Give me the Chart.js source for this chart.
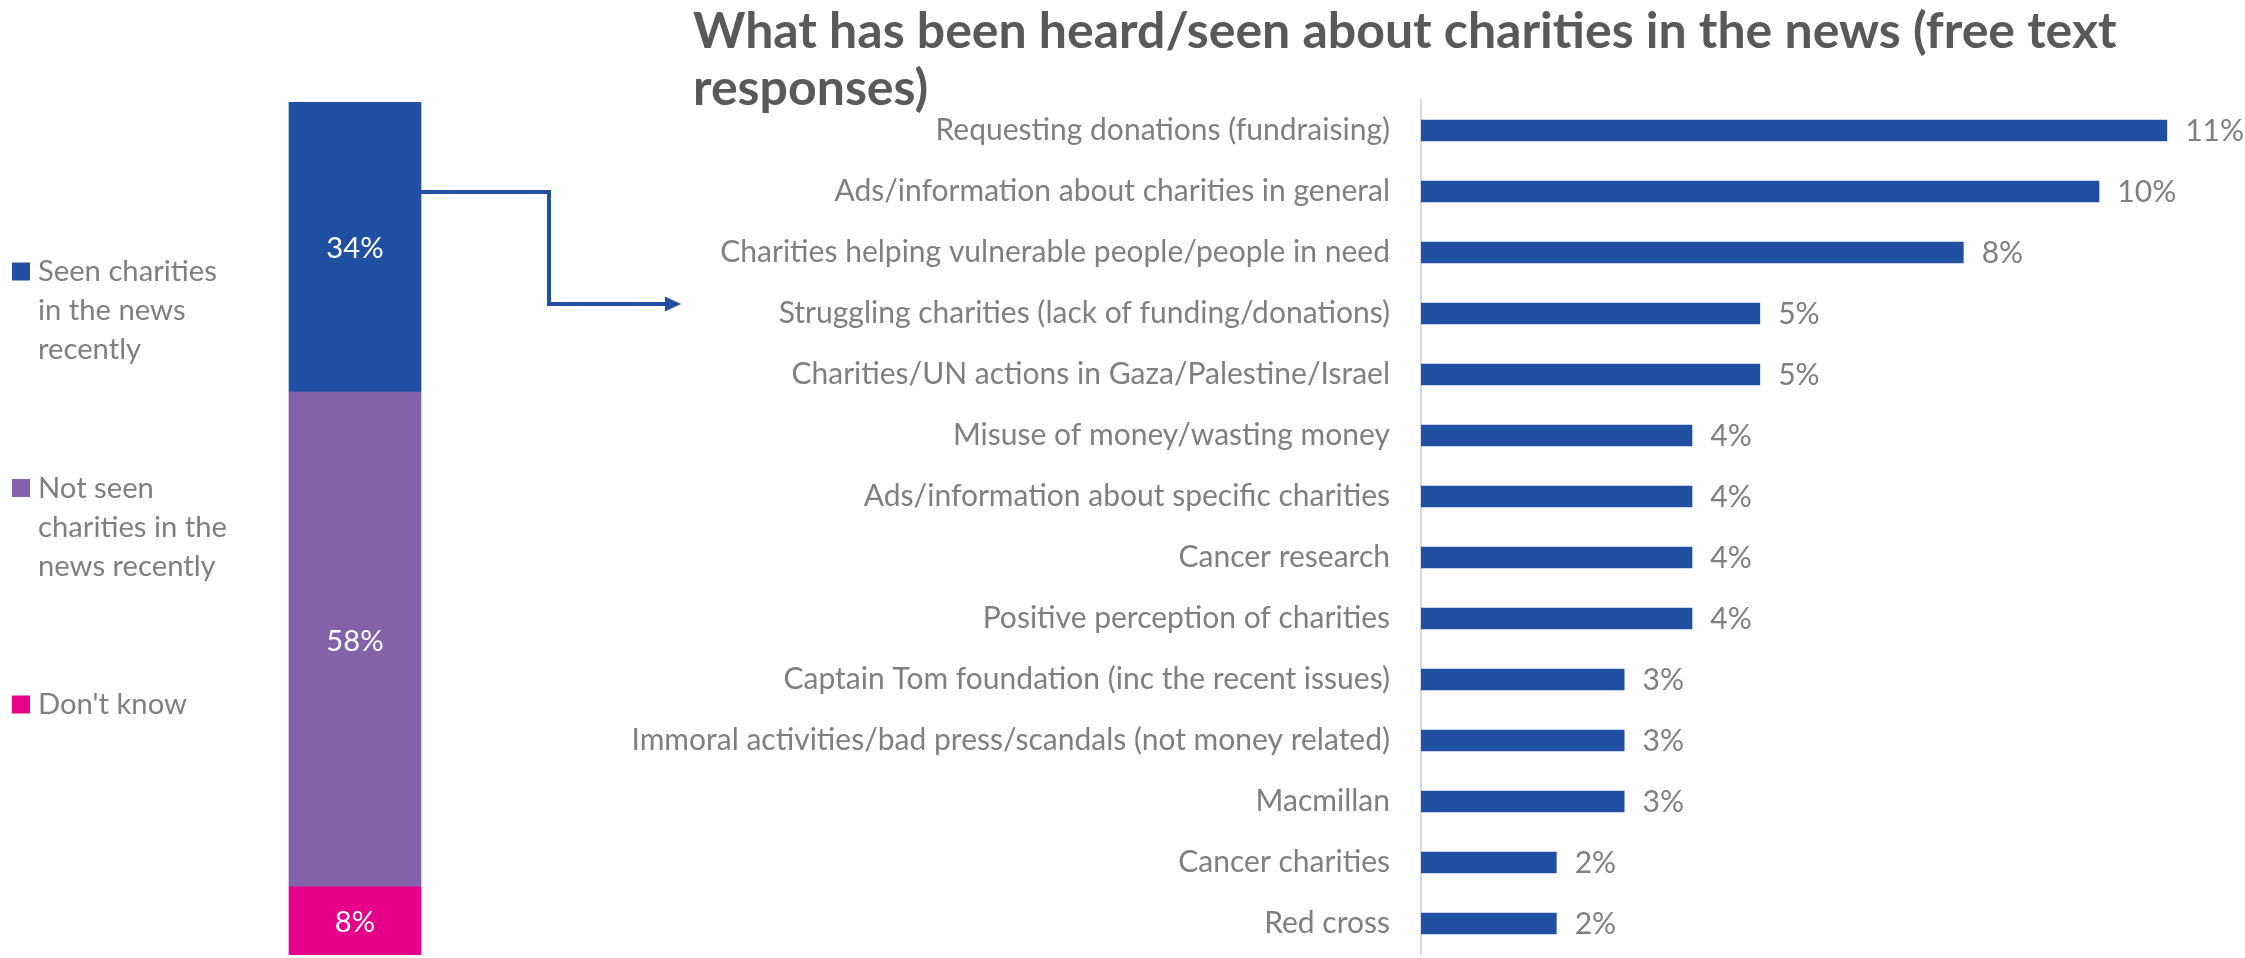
<!DOCTYPE html>
<html>
<head>
<meta charset="utf-8">
<title>Charities in the news</title>
<script src="https://cdn.jsdelivr.net/npm/chart.js@4.4.1/dist/chart.umd.min.js"></script>
<style>
  html, body { margin: 0; padding: 0; background: #ffffff; }
  #wrap { position: relative; width: 2245px; height: 958px; overflow: hidden; }
  #wrap canvas { position: absolute; left: 0; top: 0; }
</style>
</head>
<body>
<div id="wrap">
  <canvas id="share" width="710" height="958"></canvas>
  <canvas id="topics" width="2245" height="958"></canvas>
</div>
<script>
// Share of people who have seen charities in the news (stacked column, top to bottom)
const shareLabels = [
  ['Seen charities', 'in the news', 'recently'],
  ['Not seen', 'charities in the', 'news recently'],
  ["Don't know"]
];
const shareValues = [34, 58, 8];
const shareColors = ['#2150A3', '#8462AA', '#E6008A'];

// Free text topics mentioned by those who had seen charities in the news
const topicTitle = ['What has been heard/seen about charities in the news (free text', 'responses)'];
const topicLabels = [
  'Requesting donations (fundraising)',
  'Ads/information about charities in general',
  'Charities helping vulnerable people/people in need',
  'Struggling charities (lack of funding/donations)',
  'Charities/UN actions in Gaza/Palestine/Israel',
  'Misuse of money/wasting money',
  'Ads/information about specific charities',
  'Cancer research',
  'Positive perception of charities',
  'Captain Tom foundation (inc the recent issues)',
  'Immoral activities/bad press/scandals (not money related)',
  'Macmillan',
  'Cancer charities',
  'Red cross'
];
const topicValues = [11, 10, 8, 5, 5, 4, 4, 4, 4, 3, 3, 3, 2, 2];

const FAMILY = 'Lato, "Open Sans", "DejaVu Sans", sans-serif';
const BLUE = '#2150A3';
const GREY = '#7F7F7F';
const TITLE_GREY = '#595959';

// Pick a font size that makes the given text span the given width
function fitSize(text, width, weight) {
  const c = document.createElement('canvas').getContext('2d');
  c.font = weight + ' 100px ' + FAMILY;
  return 100 * width / c.measureText(text).width;
}
const longestTopic = topicLabels.reduce((a, b) => (a.length >= b.length ? a : b));
const tickSize = fitSize(longestTopic, 759, 'normal');
const legendSize = fitSize(shareLabels[0][0], 179, 'normal');
const titleSize = fitSize(topicTitle[0], 1424, 'bold');

// ---- left: stacked share column with side legend and link arrow ----
const segmentLabels = {
  id: 'segmentLabels',
  afterDatasetsDraw(chart) {
    const ctx = chart.ctx;
    ctx.save();
    ctx.fillStyle = '#ffffff';
    ctx.font = legendSize.toFixed(2) + 'px ' + FAMILY;
    ctx.textAlign = 'center';
    ctx.textBaseline = 'middle';
    chart.data.datasets.forEach((ds, i) => {
      chart.getDatasetMeta(i).data.forEach((el, j) => {
        ctx.fillText(ds.data[j] + '%', el.x, (el.y + el.base) / 2 + 2);
      });
    });
    ctx.restore();
  }
};

const sideLegend = {
  id: 'sideLegend',
  afterDraw(chart) {
    const ctx = chart.ctx;
    ctx.save();
    ctx.font = legendSize.toFixed(2) + 'px ' + FAMILY;
    ctx.textAlign = 'left';
    ctx.textBaseline = 'alphabetic';
    shareLabels.forEach((lines, i) => {
      const base = 281 + i * 216.5;
      ctx.fillStyle = shareColors[i];
      ctx.fillRect(12, base - 18.5, 18, 18);
      ctx.fillStyle = GREY;
      lines.forEach((line, k) => ctx.fillText(line, 38, base + k * 39));
    });
    ctx.restore();
  }
};

const linkArrow = {
  id: 'linkArrow',
  afterDraw(chart) {
    const el = chart.getDatasetMeta(chart.data.datasets.length - 1).data[0];
    const startX = el.x + el.width / 2;
    const ctx = chart.ctx;
    ctx.save();
    ctx.strokeStyle = BLUE;
    ctx.fillStyle = BLUE;
    ctx.lineWidth = 4;
    ctx.lineJoin = 'miter';
    ctx.beginPath();
    ctx.moveTo(startX, 192);
    ctx.lineTo(549, 192);
    ctx.lineTo(549, 304);
    ctx.lineTo(666, 304);
    ctx.stroke();
    ctx.beginPath();
    ctx.moveTo(665, 296.5);
    ctx.lineTo(681, 304);
    ctx.lineTo(665, 311.5);
    ctx.closePath();
    ctx.fill();
    ctx.restore();
  }
};

// stack from the bottom up, so the first share sits on top
const shareDatasets = shareValues.map((v, i) => ({
  label: shareLabels[i].join(' '),
  data: [v],
  backgroundColor: shareColors[i],
  borderWidth: 0,
  barThickness: 132
})).reverse();

new Chart(document.getElementById('share'), {
  type: 'bar',
  data: { labels: [''], datasets: shareDatasets },
  options: {
    responsive: false,
    animation: false,
    devicePixelRatio: 1,
    layout: { padding: { top: 102, bottom: 3, left: 0, right: 0 } },
    plugins: { legend: { display: false }, tooltip: { enabled: false } },
    scales: {
      x: { display: false, stacked: true },
      y: { display: false, stacked: true, min: 0, max: 100 }
    }
  },
  plugins: [segmentLabels, sideLegend, linkArrow]
});

// ---- right: topics bar chart ----
const valueLabels = {
  id: 'valueLabels',
  afterDatasetsDraw(chart) {
    const ctx = chart.ctx;
    ctx.save();
    ctx.fillStyle = GREY;
    ctx.font = tickSize.toFixed(2) + 'px ' + FAMILY;
    ctx.textAlign = 'left';
    ctx.textBaseline = 'middle';
    const ds = chart.data.datasets[0];
    chart.getDatasetMeta(0).data.forEach((el, j) => {
      ctx.fillText(ds.data[j] + '%', el.x + 18, el.y + 1);
    });
    ctx.restore();
  }
};

// the category labels reach left of the title's start, so widen the label clip area
const wideLabels = {
  id: 'wideLabels',
  afterLayout(chart) { chart.scales.y.left = 0; }
};

const TITLE_LINE = 57;
new Chart(document.getElementById('topics'), {
  type: 'bar',
  data: {
    labels: topicLabels,
    datasets: [{
      data: topicValues,
      backgroundColor: BLUE,
      borderWidth: 0,
      barPercentage: 0.356,
      categoryPercentage: 1
    }]
  },
  options: {
    indexAxis: 'y',
    responsive: false,
    animation: false,
    devicePixelRatio: 1,
    layout: { padding: { left: 693, right: 10, top: 0, bottom: 4 } },
    plugins: {
      legend: { display: false },
      tooltip: { enabled: false },
      title: {
        display: true,
        text: topicTitle,
        align: 'start',
        color: TITLE_GREY,
        font: { family: FAMILY, size: titleSize, weight: 'bold', lineHeight: TITLE_LINE / titleSize },
        padding: { top: 3, bottom: -17 }
      }
    },
    scales: {
      x: { display: false, min: 0, max: 12 },
      y: {
        afterFit(scale) {
          scale.width = 1421 - 693;
          scale.paddingTop = 0;
          scale.paddingBottom = 0;
        },
        grid: { display: false, drawTicks: false },
        border: { display: true, color: '#D9D9D9', width: 2 },
        ticks: {
          color: GREY,
          autoSkip: false,
          padding: 31,
          font: { family: FAMILY, size: tickSize }
        }
      }
    }
  },
  plugins: [valueLabels, wideLabels]
});
</script>
</body>
</html>
